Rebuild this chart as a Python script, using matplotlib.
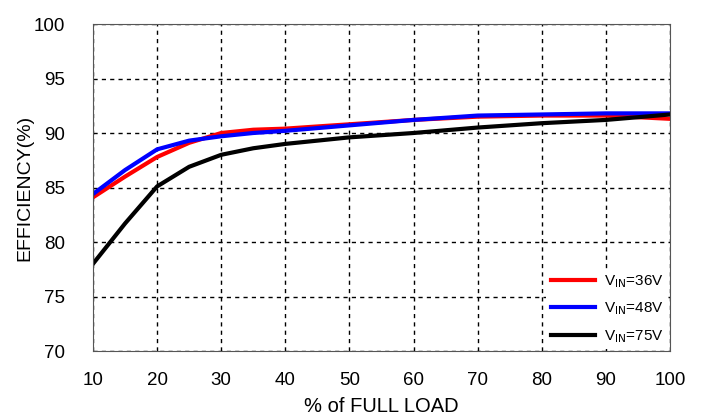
import matplotlib
matplotlib.use("Agg")
import matplotlib.pyplot as plt

plt.rcParams['font.family'] = ['Liberation Sans', 'DejaVu Sans']

# load (% of full load) and efficiency (%)
load = [10, 15, 20, 25, 30, 35, 40, 50, 60, 70, 80, 90, 100]
eff_36v = [84.1, 86.0, 87.8, 89.1, 90.0, 90.3, 90.4, 90.8, 91.2, 91.5, 91.6, 91.6, 91.3]
eff_48v = [84.4, 86.6, 88.5, 89.3, 89.7, 90.0, 90.2, 90.7, 91.2, 91.6, 91.7, 91.8, 91.8]
eff_75v = [78.0, 81.7, 85.1, 86.9, 88.0, 88.6, 89.0, 89.6, 90.0, 90.5, 90.9, 91.2, 91.7]

labels = ["V$_{\\mathrm{IN}}$=36V", "V$_{\\mathrm{IN}}$=48V", "V$_{\\mathrm{IN}}$=75V"]

fig = plt.figure(figsize=(7.04, 4.19), dpi=100)
ax = fig.add_axes([93 / 704, 1 - 351 / 419, 577 / 704, 327 / 419])

ax.plot(load, eff_36v, color="#ff0000", lw=3, label=labels[0])
ax.plot(load, eff_48v, color="#0000ff", lw=3, label=labels[1])
ax.plot(load, eff_75v, color="#000000", lw=3, label=labels[2])

ax.set_xlim(10, 100)
ax.set_ylim(70, 100)
ax.set_xticks(range(10, 101, 10))
ax.set_yticks(range(70, 101, 5))
ax.grid(True, color="black", linestyle=(0, (3, 3)), linewidth=1)
for s in ax.spines.values():
    s.set_color("#555555")
    s.set_zorder(6)
ax.tick_params(length=0, labelsize=13.5)
ax.tick_params(axis="x", pad=15)
ax.tick_params(axis="y", pad=20)

ax.set_xlabel("% of FULL LOAD", fontsize=14.5, labelpad=6)
ax.set_ylabel("EFFICIENCY(%)", fontsize=14, labelpad=0)

# white box with no border hides the grid behind the legend
leg = ax.legend(loc="lower right", frameon=True, fontsize=11, handlelength=2.9,
                handletextpad=0.6, borderaxespad=0.1, borderpad=0.3,
                labelspacing=0.7, fancybox=False, framealpha=1)
leg.get_frame().set_facecolor("white")
leg.get_frame().set_edgecolor("none")
leg.set_zorder(5)

fig.savefig("out.png", dpi=100)
